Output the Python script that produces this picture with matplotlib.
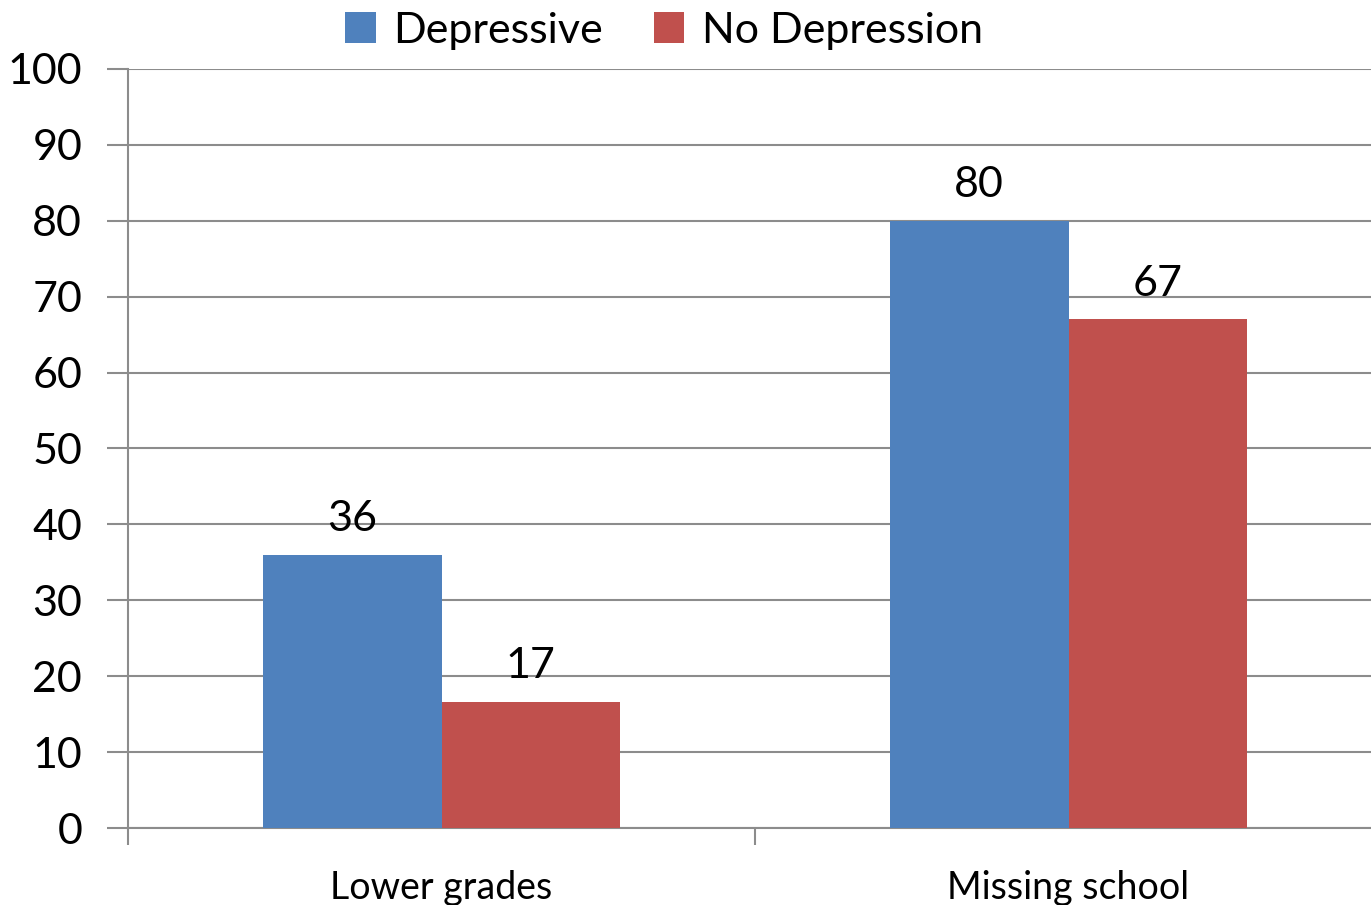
import matplotlib.pyplot as plt
import numpy as np

plt.rcParams['font.family'] = ['Lato', 'DejaVu Sans']

categories = ['Lower grades', 'Missing school']
series = ['Depressive', 'No Depression']
depressive = [36, 80]
no_depression = [16.6, 67]
colors = ['#4F81BD', '#C0504D']

fig = plt.figure(figsize=(13.71, 9.05), dpi=100)
ax = fig.add_axes([128 / 1371, 77 / 905, 1 - 128 / 1371, 759 / 905])

x = np.arange(len(categories))
w = 0.285
b1 = ax.bar(x - w / 2, depressive, w, color=colors[0], label=series[0], zorder=3)
b2 = ax.bar(x + w / 2, no_depression, w, color=colors[1], label=series[1], zorder=3)
for bars in (b1, b2):
    ax.bar_label(bars, fmt='%.0f', padding=12, fontsize=31)

ax.set_ylim(0, 100)
ax.set_xlim(-0.5, (1371 - 128) / 627 - 0.5)
ax.set_yticks(range(0, 101, 10))
ax.yaxis.grid(True, color='#8c8c8c', linewidth=1.5, zorder=0)
ax.tick_params(axis='y', labelsize=31, length=15, width=1.5, color='#8c8c8c', pad=18)

ax.set_xticks(x)
ax.set_xticklabels(categories, fontsize=27)
ax.tick_params(axis='x', which='major', length=0, pad=30)
ax.set_xticks([-0.5, 0.5], minor=True)
ax.tick_params(axis='x', which='minor', length=12, width=1.5, color='#8c8c8c')

for s in ['top', 'right']:
    ax.spines[s].set_visible(False)
for s in ['left', 'bottom']:
    ax.spines[s].set_color('#8c8c8c')
    ax.spines[s].set_linewidth(1.5)

fig.legend(loc='upper center', bbox_to_anchor=(664 / 1371, 1.03), ncol=2, frameon=False,
           fontsize=31, handlelength=0.7, handleheight=0.7, handletextpad=0.4, columnspacing=1.2)

fig.savefig('out.png', dpi=100)
